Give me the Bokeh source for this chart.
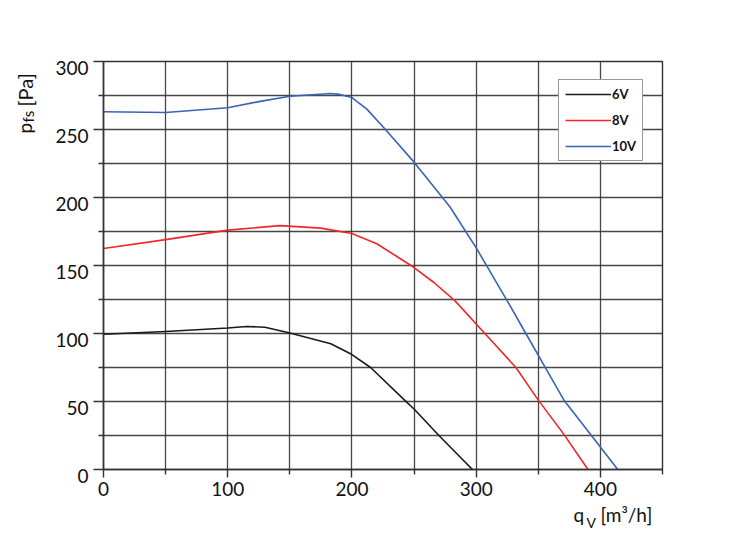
import math
from bokeh.plotting import figure
from bokeh.models import Range1d, FixedTicker, Label, LinearAxis
from bokeh.embed import file_html
from bokeh.resources import INLINE

# ---- data ----
flow_6v = [0, 50, 100, 115, 130, 150, 183, 200, 215, 243, 250, 270, 297]
pres_6v = [99.5, 101.5, 104, 105.2, 104.6, 100.3, 92.5, 84.5, 75, 50.5, 44.5, 25, 0]

flow_8v = [0, 50, 100, 142, 175, 200, 220, 239, 250, 266, 283, 307, 332, 350, 370.5, 390]
pres_8v = [162.5, 169, 176, 179.3, 177.5, 173.5, 166, 155, 148.5, 137.5, 124, 100, 75, 51, 26, 0]

flow_10v = [0, 50, 100, 125, 150, 183, 190, 200, 212, 225, 250, 279, 300, 325, 340, 355, 371, 392, 414]
pres_10v = [263, 262.5, 266, 270.5, 274.5, 276.5, 275.8, 273.5, 265, 252, 226, 193, 163, 124, 100, 76, 50.5, 26, 0]

series_names = ["6V", "8V", "10V"]
series_colors = ["#1a1a1a", "#f0262b", "#3a62b6"]

x_ticks = [0, 100, 200, 300, 400]
x_minor = [50, 150, 250, 350, 450]
y_ticks = [0, 50, 100, 150, 200, 250, 300]
y_minor = [25, 75, 125, 175, 225, 275]

X_MAX, Y_MAX = 450, 300

# ---- layout ----
W, H = 713, 532
FL, FT, FR, FB = 103, 61, 662, 469  # frame edges in figure px

FONT = "Lato"
GRID = "#333333"
TXT = "#111111"

p = figure(width=W, height=H, output_backend="svg", toolbar_location=None,
           x_range=Range1d(0, X_MAX), y_range=Range1d(0, Y_MAX),
           min_border_left=FL, min_border_right=W - FR,
           min_border_top=FT, min_border_bottom=H - FB)
p.title.visible = False
p.background_fill_color = "white"
p.border_fill_color = "white"
p.outline_line_color = GRID
p.outline_line_width = 1.4

for ax, maj, mnr, out_maj in ((p.xaxis[0], x_ticks, x_minor, 8), (p.yaxis[0], y_ticks, y_minor, 10)):
    ax.ticker = FixedTicker(ticks=maj, minor_ticks=mnr)
    ax.axis_line_color = GRID
    ax.axis_line_width = 1.5
    ax.major_tick_line_color = GRID
    ax.major_tick_line_width = 1.4
    ax.minor_tick_line_color = GRID
    ax.minor_tick_line_width = 1.4
    ax.major_tick_in = 0
    ax.major_tick_out = out_maj
    ax.minor_tick_in = 0
    ax.minor_tick_out = 5
    ax.major_label_text_font = FONT
    ax.major_label_text_font_size = "19px"
    ax.major_label_text_color = TXT
p.xaxis.major_label_standoff = 4

# y tick labels sit a few px below their ticks in the reference: draw them with a
# second (label-only) axis whose range is shifted by that many pixels
yax = p.yaxis[0]
yax.major_label_overrides = {v: "" for v in y_ticks}
yax.major_label_standoff = 0
SHIFT = 6 * Y_MAX / (FB - FT)
p.extra_y_ranges = {"labels": Range1d(SHIFT, Y_MAX + SHIFT)}
lab_axis = LinearAxis(y_range_name="labels", ticker=FixedTicker(ticks=y_ticks[1:], minor_ticks=[]),
                      axis_line_color=None, major_tick_line_color=None, minor_tick_line_color=None,
                      major_tick_in=0, major_tick_out=0, minor_tick_in=0, minor_tick_out=0,
                      major_label_standoff=5, major_label_text_font=FONT,
                      major_label_text_font_size="19px", major_label_text_color=TXT)
p.add_layout(lab_axis, "left")
# the lowest label falls below the frame, outside any range: add it as a label
p.add_layout(Label(x=0, y=y_ticks[0] - SHIFT, x_offset=-15, text=str(y_ticks[0]),
                   text_font=FONT, text_font_size="19px", text_color=TXT,
                   text_align="right", text_baseline="middle"), "below")

for g in (p.xgrid[0], p.ygrid[0]):
    g.grid_line_color = GRID
    g.grid_line_width = 1.3
    g.grid_line_alpha = 0.9
    g.minor_grid_line_color = GRID
    g.minor_grid_line_width = 1.3
    g.minor_grid_line_alpha = 0.9
p.xgrid.ticker = FixedTicker(ticks=x_ticks, minor_ticks=x_minor)
p.ygrid.ticker = FixedTicker(ticks=y_ticks, minor_ticks=y_minor)

for xs, ys, name, col in zip((flow_6v, flow_8v, flow_10v), (pres_6v, pres_8v, pres_10v),
                              series_names, series_colors):
    p.line(xs, ys, line_color=col, line_width=1.6, line_join="round", legend_label=name)

leg = p.legend[0]
leg.location = (455, 308)
leg.border_line_color = GRID
leg.border_line_width = 1.5
leg.background_fill_color = "white"
leg.background_fill_alpha = 1.0
leg.label_text_font = FONT
leg.label_text_font_size = "13px"
leg.label_text_font_style = "bold"
leg.label_text_color = TXT
leg.glyph_width = 46
leg.glyph_height = 16
leg.label_height = 16
leg.label_standoff = 1
leg.spacing = 10
leg.padding = 6
leg.margin = 0


# ---- axis titles drawn as labels (with subscripts), placed in side panels so they are not clipped ----
def dx(ix):
    return (ix - FL) / (FR - FL) * X_MAX


def dy(iy):
    return (FB - iy) / (FB - FT) * Y_MAX


def lab(text, ix, iy, size, side, angle=0.0):
    p.add_layout(Label(x=dx(ix), y=dy(iy), text=text, angle=angle,
                       text_font=FONT, text_font_size=size, text_color=TXT,
                       text_align="left", text_baseline="alphabetic"), side)


up = math.pi / 2
lab("p", 24, 133, "19px", "left", up)
lab("fs", 27, 122, "15px", "left", up)
lab("[Pa]", 24, 106, "20px", "right", up)

lab("q", 573, 514, "19px", "above")
lab("V", 586, 522, "14px", "right")
lab("[m³/h]", 600, 514, "19px", "above")

open("out.html", "w").write(file_html(p, INLINE))
